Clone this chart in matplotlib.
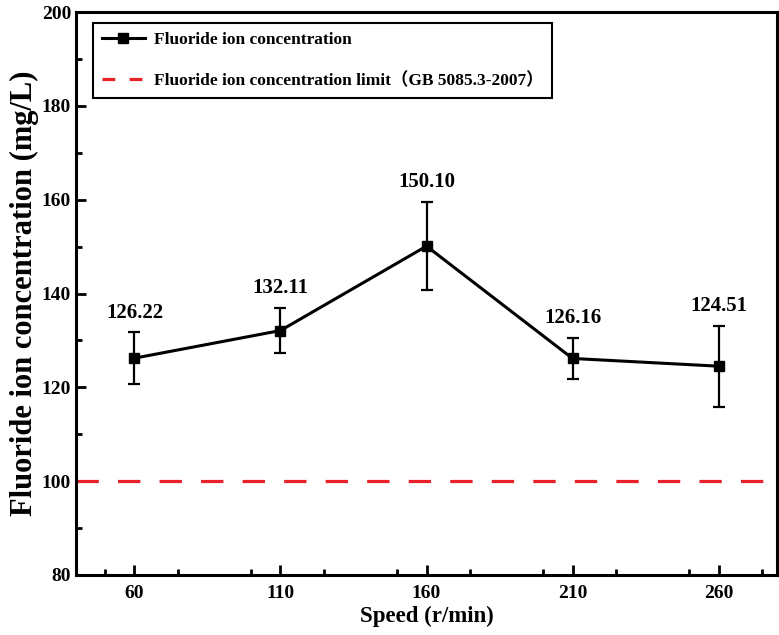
import matplotlib
matplotlib.use('Agg')
from matplotlib import pyplot as plt
from matplotlib.lines import Line2D
from matplotlib.ticker import MultipleLocator

# data
speed = [60, 110, 160, 210, 260]
conc = [126.22, 132.11, 150.10, 126.16, 124.51]
err = [5.5, 4.8, 9.4, 4.4, 8.6]
limit = 100

LBL_CONC = 'Fluoride ion concentration'
LBL_LIMIT = 'Fluoride ion concentration limit\uff08GB 5085.3-2007\uff09'
RED = '#e8212a'

plt.rcParams['font.family'] = ['Liberation Serif', 'Noto Sans CJK SC', 'DejaVu Serif']
plt.rcParams['font.weight'] = 'bold'

fig = plt.figure(figsize=(7.79, 6.35), dpi=100)
ax = fig.add_axes([0.0976, 0.0945, 0.8998, 0.8865])  # left, bottom, width, height

ax.errorbar(speed, conc, yerr=err, fmt='none', ecolor='black',
            elinewidth=1.6, capsize=4.5, capthick=1.6, zorder=3)
ax.plot(speed, conc, color='black', lw=2.2, marker='s', ms=7, zorder=4)
ax.axhline(limit, color=RED, lw=2.3, ls=(0, (7, 6)))

# value labels above the error bars
for x, y, e in zip(speed, conc, err):
    ax.annotate('%.2f' % y, (x, y + e), xytext=(0, 7), textcoords='offset points',
                ha='center', va='bottom', fontsize=15, fontweight='bold')

ax.set_xlim(40, 280)
ax.set_ylim(80, 200)
ax.set_xticks(speed)
ax.xaxis.set_minor_locator(MultipleLocator(25))
ax.yaxis.set_major_locator(MultipleLocator(20))
ax.yaxis.set_minor_locator(MultipleLocator(10))
ax.tick_params(which='both', direction='in', width=2, labelsize=14)
ax.tick_params(which='major', length=7)
ax.tick_params(which='minor', length=4)
ax.tick_params(axis='x', pad=7)
for s in ax.spines.values():
    s.set_linewidth(2.2)

ax.set_xlabel('Speed (r/min)', fontsize=16.5, fontweight='bold', labelpad=3)
ax.set_ylabel('Fluoride ion concentration (mg/L)', fontsize=22, fontweight='bold', labelpad=2)

# proxy handles so the legend shows the line+marker and two short red dashes
handles = [Line2D([], [], color='black', lw=2.2, marker='s', ms=7),
           Line2D([], [], color=RED, lw=2.3, ls=(0, (4, 4.5)))]
leg = ax.legend(handles, [LBL_CONC, LBL_LIMIT], loc='upper left',
                bbox_to_anchor=(0.024, 0.98), borderaxespad=0, fontsize=12.5,
                fancybox=False, edgecolor='black', framealpha=1,
                handlelength=2.5, handletextpad=0.5, borderpad=0.5,
                labelspacing=1.4)
leg.get_frame().set_linewidth(1.5)

plt.savefig('out.png', format='png')
